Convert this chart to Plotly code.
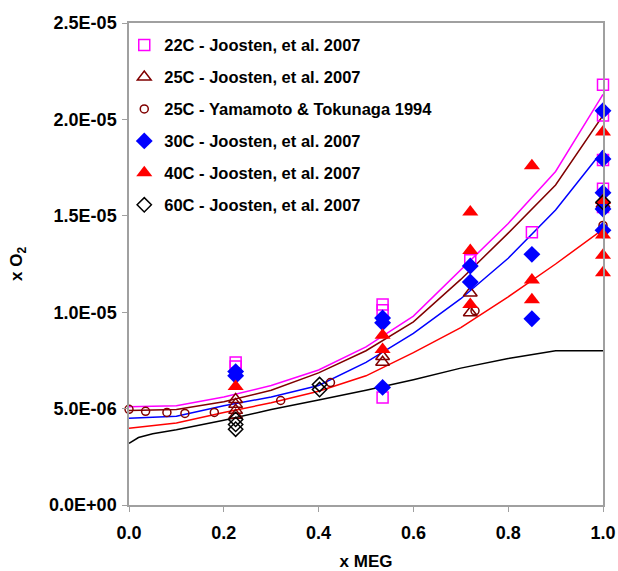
import plotly.graph_objects as go

# ---------------- data (x MEG, x O2) ----------------
x22 = [0.225, 0.225, 0.535, 0.535, 0.535, 0.72, 0.85, 1.0, 1.0, 1.0, 1.0, 1.0]
y22 = [7.39e-6, 7.18e-6, 10.4e-6, 10.1e-6, 5.58e-6, 12.7e-6, 14.15e-6,
       21.8e-6, 20.2e-6, 17.9e-6, 16.4e-6, 15.45e-6]

x25 = [0.225, 0.225, 0.225, 0.225, 0.535, 0.535, 0.72, 0.72, 1.0]
y25 = [5.47e-6, 5.22e-6, 4.91e-6, 4.65e-6, 7.7e-6, 7.4e-6, 11.0e-6, 9.97e-6, 15.6e-6]

xYam = [0.0, 0.035, 0.08, 0.118, 0.18, 0.32, 0.425, 0.73, 1.0]
yYam = [4.96e-6, 4.86e-6, 4.80e-6, 4.75e-6, 4.80e-6, 5.42e-6, 6.35e-6, 10.07e-6, 14.5e-6]

x30 = [0.225, 0.225, 0.535, 0.535, 0.535, 0.72, 0.72, 0.85, 0.85, 1.0, 1.0, 1.0, 1.0, 1.0]
y30 = [6.92e-6, 6.7e-6, 9.7e-6, 9.45e-6, 6.1e-6, 12.4e-6, 11.57e-6, 13.0e-6, 9.66e-6,
       20.45e-6, 17.95e-6, 16.2e-6, 15.35e-6, 14.25e-6]

x40 = [0.225, 0.535, 0.535, 0.72, 0.72, 0.72, 0.85, 0.85, 0.85, 1.0, 1.0, 1.0, 1.0, 1.0]
y40 = [6.15e-6, 8.8e-6, 8.06e-6, 15.2e-6, 13.2e-6, 10.4e-6, 17.6e-6, 11.67e-6, 10.64e-6,
       19.35e-6, 15.8e-6, 14.0e-6, 12.95e-6, 12.05e-6]

x60 = [0.225, 0.225, 0.225, 0.402, 0.402, 1.0]
y60 = [4.44e-6, 4.18e-6, 3.93e-6, 6.25e-6, 5.99e-6, 15.7e-6]

# model curves
xm = [0.0, 0.1, 0.2, 0.3, 0.4, 0.5, 0.6, 0.7, 0.8, 0.9, 1.0]
m22 = [5.10e-6, 5.15e-6, 5.6e-6, 6.2e-6, 7.0e-6, 8.2e-6, 9.8e-6, 12.2e-6, 14.6e-6, 17.3e-6, 21.3e-6]
m25 = [4.90e-6, 4.95e-6, 5.35e-6, 5.95e-6, 6.85e-6, 8.0e-6, 9.5e-6, 11.7e-6, 14.1e-6, 16.6e-6, 20.2e-6]
m30 = [4.50e-6, 4.60e-6, 5.15e-6, 5.6e-6, 6.2e-6, 7.4e-6, 8.9e-6, 10.7e-6, 12.8e-6, 15.3e-6, 18.4e-6]
m40 = [3.98e-6, 4.25e-6, 4.8e-6, 5.3e-6, 5.9e-6, 6.7e-6, 7.9e-6, 9.2e-6, 10.8e-6, 12.5e-6, 14.3e-6]
xm60 = [0.0, 0.02, 0.05, 0.1, 0.2, 0.3, 0.4, 0.5, 0.6, 0.7, 0.8, 0.9, 1.0]
m60 = [3.2e-6, 3.5e-6, 3.7e-6, 3.9e-6, 4.4e-6, 4.95e-6, 5.45e-6, 5.95e-6, 6.5e-6, 7.1e-6, 7.6e-6, 8.0e-6, 8.0e-6]

ytickvals = [0, 5e-6, 1e-5, 1.5e-5, 2e-5, 2.5e-5]
yticktext = ["0.0E+00", "5.0E-06", "1.0E-05", "1.5E-05", "2.0E-05", "2.5E-05"]
xtickvals = [0.0, 0.2, 0.4, 0.6, 0.8, 1.0]

FONT = "Liberation Sans, Arial, sans-serif"

fig = go.Figure()

# model lines
for xs, ys, c in [(xm, m22, "#ff00ff"), (xm, m25, "#800000"), (xm, m30, "#0000ff"),
                  (xm, m40, "#ff0000"), (xm60, m60, "#000000")]:
    fig.add_trace(go.Scatter(x=xs, y=ys, mode="lines", line=dict(color=c, width=1.5),
                             showlegend=False, hoverinfo="skip", cliponaxis=False))

series = [
    ("22C - Joosten, et al. 2007", x22, y22, "square-open", "#ff00ff", 11, 1.5),
    ("25C - Joosten, et al. 2007", x25, y25, "triangle-up-open", "#800000", 12, 1.5),
    ("25C - Yamamoto & Tokunaga 1994", xYam, yYam, "circle-open", "#800000", 8, 1.5),
    ("30C - Joosten, et al. 2007", x30, y30, "diamond", "#0000ff", 13, 0),
    ("40C - Joosten, et al. 2007", x40, y40, "triangle-up", "#ff0000", 14, 0),
    ("60C - Joosten, et al. 2007", x60, y60, "diamond-open", "#000000", 11, 1.5),
]
for i, (name, xs, ys, sym, c, sz, lw) in enumerate(series):
    fig.add_trace(go.Scatter(
        x=xs, y=ys, mode="markers", name=name, legendgroup=f"g{i}", cliponaxis=False,
        marker=dict(symbol=sym, color=c, size=sz, line=dict(color=c, width=lw)),
    ))

fig.update_layout(
    width=618, height=571,
    margin=dict(l=129, r=15, t=23, b=66),
    paper_bgcolor="white", plot_bgcolor="white",
    font=dict(family=FONT, size=16, color="black"),
    showlegend=True,
    legend=dict(x=-0.01, y=0.99, xanchor="left", yanchor="top",
                bgcolor="rgba(255,255,255,0)", borderwidth=0,
                font=dict(family=FONT, size=16.5, color="black", weight="bold"),
                tracegroupgap=7.5, itemwidth=30),
    xaxis=dict(range=[0, 1.0], tickvals=xtickvals, tickformat=".1f", automargin=False,
               showgrid=False, zeroline=False, showline=True, linecolor="#a0a0a0",
               linewidth=1.5, mirror=True, ticks="outside", ticklen=5, tickcolor="#a0a0a0",
               ticklabelstandoff=6,
               tickfont=dict(family=FONT, size=18, weight="bold"),
               title=dict(text="<b>x MEG</b>", font=dict(family=FONT, size=17), standoff=20)),
    yaxis=dict(range=[0, 2.5e-5], tickvals=ytickvals, ticktext=yticktext, automargin=False,
               showgrid=False, zeroline=False, showline=True, linecolor="#a0a0a0",
               linewidth=1.5, mirror=True, ticks="outside", ticklen=5, tickcolor="#a0a0a0",
               ticklabelstandoff=2,
               tickfont=dict(family=FONT, size=18, weight="bold"),
               title=dict(text="<b>x O<sub>2</sub></b>", font=dict(family=FONT, size=17), standoff=22)),
)

fig.write_html("out.html")
